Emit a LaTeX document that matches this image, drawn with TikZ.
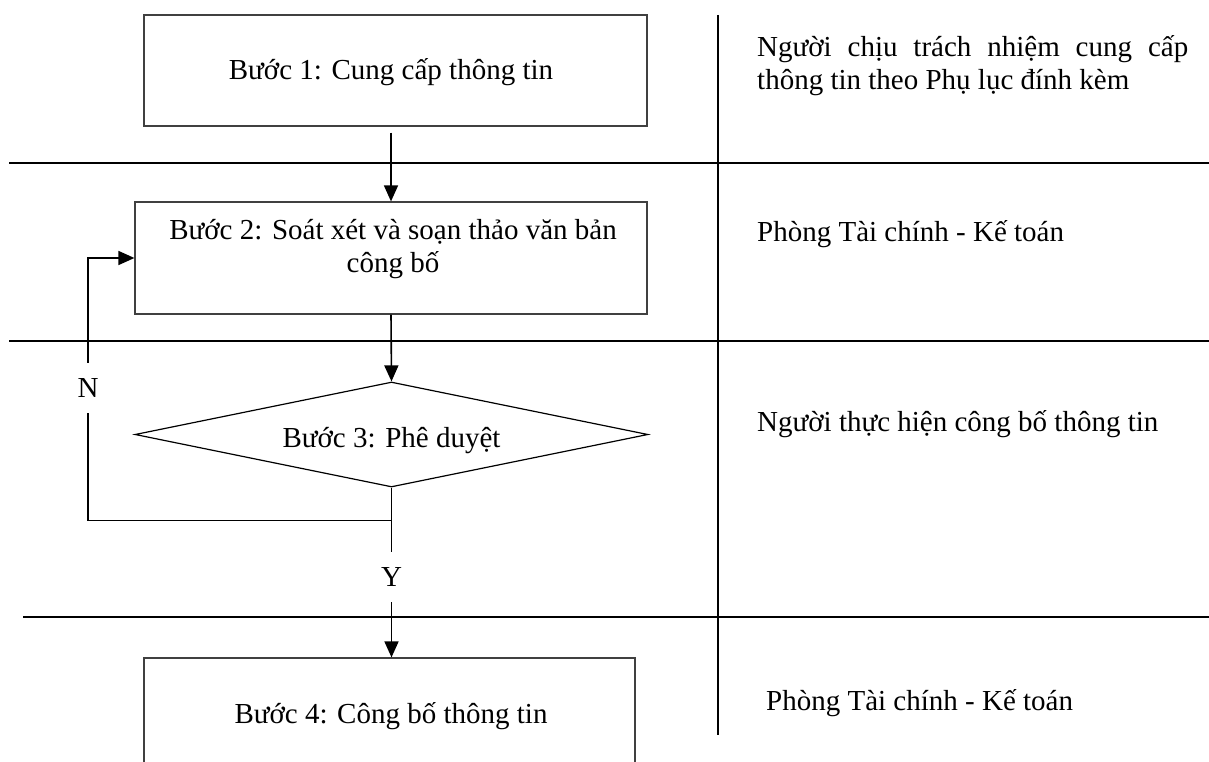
\documentclass[tikz,border=0pt]{standalone}
\usepackage{fontspec}
\setmainfont{Liberation Serif}
\usetikzlibrary{arrows.meta,shapes.geometric}
\begin{document}
\begin{tikzpicture}[x=1pt,y=-1pt,
  every node/.style={font=\fontsize{29pt}{33pt}\selectfont, inner sep=0pt},
  stepbox/.style={draw=black!75, line width=1.2pt, rectangle},
  decision/.style={draw=black, line width=1.2pt, diamond},
  sep/.style={draw=black, line width=1.6pt},
  conn/.style={draw=black, line width=1.6pt},
  arr/.style={conn, -{Triangle[length=16pt,width=14pt]}},
  lbl/.style={anchor=base},
  note/.style={anchor=base west, align=left}
]
\useasboundingbox (0,0) rectangle (1209,762);

% separators
\coordinate (h1a) at (9,163);   \coordinate (h1b) at (1209,163);
\coordinate (h2a) at (9,341);   \coordinate (h2b) at (1209,341);
\coordinate (h3a) at (23,617);  \coordinate (h3b) at (1209,617);
\coordinate (va) at (718,15);   \coordinate (vb) at (718,735);
\path[sep] (h1a) -- (h1b);
\path[sep] (h2a) -- (h2b);
\path[sep] (h3a) -- (h3b);
\path[sep] (va) -- (vb);

% boxes
\node[stepbox, minimum width=503pt, minimum height=111pt] (b1) at (395.5,70.5) {};
\node[lbl] (t1) at (391,80) {Bước 1: Cung cấp thông tin};

\node[stepbox, minimum width=512pt, minimum height=112pt] (b2) at (391,258) {};
\node[lbl, align=center] (t2) at (393,272) {Bước 2: Soát xét và soạn thảo văn bản\\công bố};

\node[decision, minimum width=513pt, minimum height=105pt] (d3) at (391.5,434.5) {};
\node[lbl] (t3) at (391.5,447) {Bước 3: Phê duyệt};

\node[stepbox, minimum width=491pt, minimum height=200pt] (b4) at (389.5,758) {};
\node[lbl] (t4) at (391,723) {Bước 4: Công bố thông tin};

% labels on the decision branches
\node[minimum height=50pt] (nl) at (88,388) {N};
\node[minimum height=50pt] (yl) at (391.5,577) {Y};

% connectors
\draw[arr] ([yshift=-6pt]b1.south -| b2.north) -- (b2.north);
\draw[arr] (b2.south) -- (d3.north);
\draw[conn] (d3.south) -- (yl.north);
\draw[arr] (yl.south) -- (yl.south |- b4.north);
\coordinate (j) at ([yshift=-33pt]d3.south);
\draw[conn] (j) -| (nl.south);
\draw[arr] (nl.north) |- (b2.west);

% responsibility notes
\node[note] (r1) at (757,90) {\makebox[431pt][s]{Người chịu trách nhiệm cung cấp}\\thông tin theo Phụ lục đính kèm};
\node[note] (r2) at (757,241) {Phòng Tài chính - Kế toán};
\node[note] (r3) at (757,431) {Người thực hiện công bố thông tin};
\node[note] (r4) at (766,710) {Phòng Tài chính - Kế toán};
\end{tikzpicture}
\end{document}
